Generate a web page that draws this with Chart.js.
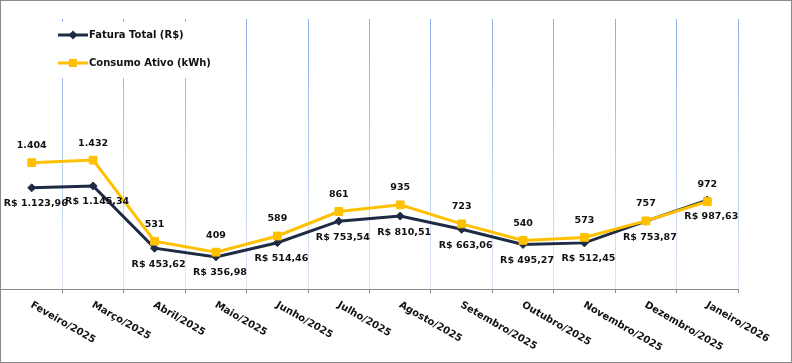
<!DOCTYPE html>
<html>
<head>
<meta charset="utf-8">
<script src="https://cdn.jsdelivr.net/npm/chart.js@4.4.1/dist/chart.umd.min.js"></script>
<style>
  html, body { margin: 0; padding: 0; background: #fff; }
  #moldura { width: 792px; height: 363px; box-sizing: border-box; border: 1px solid #8a8a8a; background: #fff; }
  canvas { display: block; }
</style>
</head>
<body>
<div id="moldura"><canvas id="grafico" width="790" height="361"></canvas></div>
<script>
// Dados do gráfico
const meses = ['Feveiro/2025','Março/2025','Abril/2025','Maio/2025','Junho/2025','Julho/2025',
  'Agosto/2025','Setembro/2025','Outubro/2025','Novembro/2025','Dezembro/2025','Janeiro/2026'];
const faturaTotal = [1123.96, 1145.34, 453.62, 356.98, 514.46, 753.54, 810.51, 663.06, 495.27, 512.45, 753.87, 987.63];
const consumoAtivo = [1404, 1432, 531, 409, 589, 861, 935, 723, 540, 573, 757, 972];

const AZUL = '#1F2A44';
const AMARELO = '#FFC000';
const FONTE = '"DejaVu Sans", sans-serif';

// formatação pt-BR simples
function milhar(n){ return String(n).replace(/\B(?=(\d{3})+(?!\d))/g, '.'); }
function reais(v){ const [i, d] = v.toFixed(2).split('.'); return 'R$ ' + milhar(i) + ',' + d; }

// rótulos de dados
const rotulos = {
  id: 'rotulos',
  afterDatasetsDraw(chart){
    const ctx = chart.ctx;
    ctx.save();
    ctx.font = 'bold 9.5px ' + FONTE;
    ctx.fillStyle = '#111';
    ctx.textAlign = 'center';
    ctx.textBaseline = 'middle';
    chart.getDatasetMeta(0).data.forEach((p, i) => ctx.fillText(reais(faturaTotal[i]), p.x + 4, p.y + 16));
    chart.getDatasetMeta(1).data.forEach((p, i) => ctx.fillText(milhar(consumoAtivo[i]), p.x, p.y - 17));
    ctx.restore();
  }
};

// rótulos do eixo x inclinados para baixo
const eixoX = {
  id: 'eixoX',
  afterDraw(chart){
    const ctx = chart.ctx, xs = chart.scales.x;
    ctx.save();
    ctx.font = 'bold 10px ' + FONTE;
    ctx.fillStyle = '#111';
    ctx.textAlign = 'left';
    ctx.textBaseline = 'top';
    meses.forEach((m, i) => {
      ctx.save();
      ctx.translate(xs.getPixelForValue(i) + 2, xs.top + 11);
      ctx.rotate(Math.PI / 6);
      ctx.fillText(m, 0, 0);
      ctx.restore();
    });
    ctx.restore();
  }
};

// legenda dentro da área do gráfico
const legenda = {
  id: 'legenda',
  afterDraw(chart){
    const ctx = chart.ctx;
    ctx.save();
    ctx.fillStyle = '#fff';
    ctx.fillRect(54, 21, 168, 56);
    const itens = [
      {txt: chart.data.datasets[0].label, cor: AZUL, y: 34, forma: 'losango'},
      {txt: chart.data.datasets[1].label, cor: AMARELO, y: 62, forma: 'quadrado'}
    ];
    itens.forEach(it => {
      ctx.strokeStyle = it.cor;
      ctx.fillStyle = it.cor;
      ctx.lineWidth = 3;
      ctx.beginPath(); ctx.moveTo(57, it.y); ctx.lineTo(87, it.y); ctx.stroke();
      ctx.beginPath();
      if (it.forma === 'losango') {
        ctx.moveTo(72, it.y - 4.5); ctx.lineTo(76.5, it.y); ctx.lineTo(72, it.y + 4.5); ctx.lineTo(67.5, it.y);
        ctx.closePath();
      } else {
        ctx.rect(68, it.y - 4, 8, 8);
      }
      ctx.fill();
      ctx.fillStyle = '#111';
      ctx.font = 'bold 10px ' + FONTE;
      ctx.textAlign = 'left';
      ctx.textBaseline = 'middle';
      ctx.fillText(it.txt, 88, it.y);
    });
    ctx.restore();
  }
};

new Chart(document.getElementById('grafico'), {
  type: 'line',
  data: {
    labels: meses,
    datasets: [{
      label: 'Fatura Total (R$)',
      data: faturaTotal,
      borderColor: AZUL,
      backgroundColor: AZUL,
      borderWidth: 3,
      pointStyle: 'rectRot',
      pointRadius: 4,
      pointBorderWidth: 1,
      tension: 0,
      order: 1
    }, {
      label: 'Consumo Ativo (kWh)',
      data: consumoAtivo,
      borderColor: AMARELO,
      backgroundColor: AMARELO,
      borderWidth: 3,
      pointStyle: 'rect',
      pointRadius: 5.5,
      pointBorderWidth: 1,
      tension: 0,
      order: 0
    }]
  },
  options: {
    responsive: false,
    animation: false,
    layout: { autoPadding: false, padding: { left: 0, right: 53, top: 18, bottom: 69 } },
    plugins: { legend: { display: false }, tooltip: { enabled: false } },
    scales: {
      x: {
        offset: true,
        ticks: { display: false },
        border: { display: true, color: '#898989', width: 1 },
        grid: {
          offset: true,
          tickLength: 4,
          tickColor: '#898989',
          lineWidth: 1,
          color: (c) => {
            const a = c.chart.chartArea;
            if (!a) return '#b8c9ea';
            const g = c.chart.ctx.createLinearGradient(0, a.top, 0, a.bottom);
            g.addColorStop(0, '#8cade6');
            g.addColorStop(1, '#dfe7f5');
            return g;
          }
        }
      },
      y: { display: false, min: 0, max: 3000 }
    }
  },
  plugins: [rotulos, eixoX, legenda]
});
</script>
</body>
</html>
